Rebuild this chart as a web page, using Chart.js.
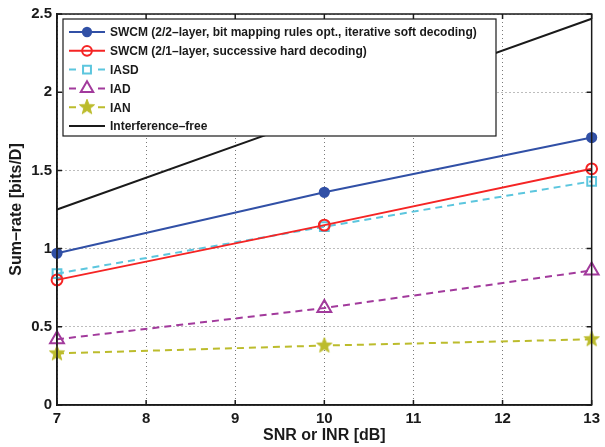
<!DOCTYPE html>
<html>
<head>
<meta charset="utf-8">
<script src="https://cdn.jsdelivr.net/npm/chart.js@4.4.0/dist/chart.umd.min.js"></script>
<style>
  html, body { margin: 0; padding: 0; background: #fff; }
  #wrap { width: 605px; height: 447px; position: relative; }
</style>
</head>
<body>
<div id="wrap"><canvas id="rateChart" width="605" height="447"></canvas></div>
<script>
// data
const snrValues = [7, 10, 13];
const swcm22Rate = [0.97, 1.36, 1.71];
const swcm21Rate = [0.80, 1.15, 1.51];
const iasdRate = [0.84, 1.14, 1.43];
const iadRate = [0.42, 0.62, 0.86];
const ianRate = [0.33, 0.38, 0.42];
const freeRate = [1.25, 1.86, 2.47];
const xTicks = [7, 8, 9, 10, 11, 12, 13];
const yTicks = [0, 0.5, 1, 1.5, 2, 2.5];

const FONT = 'Liberation Sans, Arial, Helvetica, sans-serif';

// filled star marker (Chart.js 'star' is only an asterisk)
function makeStar(color, r) {
  const c = document.createElement('canvas');
  const s = Math.ceil(r * 2 + 2);
  c.width = s; c.height = s;
  const g = c.getContext('2d');
  g.beginPath();
  for (let i = 0; i < 10; i++) {
    const rad = i % 2 === 0 ? r : r * 0.42;
    const a = -Math.PI / 2 + i * Math.PI / 5;
    const px = s / 2 + rad * Math.cos(a);
    const py = s / 2 + rad * Math.sin(a);
    if (i === 0) g.moveTo(px, py); else g.lineTo(px, py);
  }
  g.closePath();
  g.fillStyle = color;
  g.fill();
  g.strokeStyle = color;
  g.lineWidth = 1;
  g.stroke();
  return c;
}

function toPoints(ys) {
  return snrValues.map((x, i) => ({ x: x, y: ys[i] }));
}

const starImg = makeStar('#bcbc2c', 8);

function series(label, ys, color, dash, style, radius, filled) {
  return {
    label: label,
    data: toPoints(ys),
    borderColor: color,
    borderWidth: 2,
    borderDash: dash,
    pointStyle: style,
    pointRadius: radius,
    pointHoverRadius: radius,
    pointBorderWidth: 2,
    pointBorderColor: color,
    pointBackgroundColor: filled ? color : 'rgba(0,0,0,0)',
    fill: false,
    tension: 0,
    clip: false
  };
}

const datasets = [
  series('SWCM (2/2–layer, bit mapping rules opt., iterative soft decoding)', swcm22Rate, '#3150a6', [], 'circle', 4.6, true),
  series('SWCM (2/1–layer, successive hard decoding)', swcm21Rate, '#f52424', [], 'circle', 5.4, false),
  series('IASD', iasdRate, '#5cc6de', [7, 5], 'rect', 6.2, false),
  series('IAD', iadRate, '#a23a9c', [7, 5], 'triangle', 8, false),
  series('IAN', ianRate, '#bcbc2c', [7, 5], starImg, 8, true),
  series('Interference–free', freeRate, '#1a1a1a', [], false, 0, false)
];

// box, inward ticks and the in-plot legend
const matlabFrame = {
  id: 'matlabFrame',
  afterDatasetsDraw(chart) {
    const ctx = chart.ctx;
    const a = chart.chartArea;
    const xs = chart.scales.x, ys = chart.scales.y;
    ctx.save();
    ctx.strokeStyle = '#1a1a1a';
    ctx.lineWidth = 1.5;
    ctx.setLineDash([]);
    ctx.beginPath();
    xTicks.forEach(v => {
      const px = xs.getPixelForValue(v);
      ctx.moveTo(px, a.bottom); ctx.lineTo(px, a.bottom - 5);
      ctx.moveTo(px, a.top); ctx.lineTo(px, a.top + 5);
    });
    yTicks.forEach(v => {
      const py = ys.getPixelForValue(v);
      ctx.moveTo(a.left, py); ctx.lineTo(a.left + 5, py);
      ctx.moveTo(a.right, py); ctx.lineTo(a.right - 5, py);
    });
    ctx.stroke();
    ctx.strokeRect(a.left, a.top, a.right - a.left, a.bottom - a.top);

    // legend
    const box = { x: 63, y: 19, w: 433, h: 117 };
    ctx.fillStyle = '#fff';
    ctx.fillRect(box.x, box.y, box.w, box.h);
    ctx.lineWidth = 1.2;
    ctx.strokeStyle = '#1a1a1a';
    ctx.strokeRect(box.x, box.y, box.w, box.h);
    ctx.font = 'bold 12px ' + FONT;
    ctx.textBaseline = 'middle';
    chart.data.datasets.forEach((ds, i) => {
      const y = 32 + i * 18.8;
      ctx.strokeStyle = ds.borderColor;
      ctx.lineWidth = 2;
      ctx.beginPath();
      if (ds.borderDash.length) {
        ctx.moveTo(69, y); ctx.lineTo(76, y);
        ctx.moveTo(98, y); ctx.lineTo(105, y);
      } else {
        ctx.moveTo(69, y); ctx.lineTo(105, y);
      }
      ctx.stroke();
      if (ds.pointStyle) {
        ctx.fillStyle = ds.pointBackgroundColor;
        ctx.strokeStyle = ds.pointBorderColor;
        ctx.lineWidth = ds.pointBorderWidth;
        Chart.helpers.drawPoint(ctx, { pointStyle: ds.pointStyle, radius: ds.pointRadius * 0.9, borderWidth: ds.pointBorderWidth, rotation: 0 }, 87, y);
      }
      ctx.fillStyle = '#1a1a1a';
      ctx.fillText(ds.label, 110, y + 1);
    });
    ctx.restore();
  }
};

new Chart(document.getElementById('rateChart'), {
  type: 'line',
  data: { datasets: datasets },
  plugins: [matlabFrame],
  options: {
    responsive: false,
    animation: false,
    events: [],
    layout: { padding: { top: 12, right: 12, left: 0, bottom: 0 } },
    plugins: { legend: { display: false }, tooltip: { enabled: false } },
    scales: {
      x: {
        type: 'linear',
        min: 7, max: 13,
        afterBuildTicks: s => { s.ticks = xTicks.map(v => ({ value: v })); },
        afterFit: s => { s.height = 42; },
        ticks: { color: '#1a1a1a', font: { family: FONT, size: 15, weight: 'bold' }, padding: 5, maxRotation: 0 },
        grid: { color: '#7a7a7a', lineWidth: 1, drawTicks: false },
        border: { color: '#1a1a1a', width: 1.5, dash: [1, 3] },
        title: { display: true, text: 'SNR or INR [dB]', color: '#1a1a1a', font: { family: FONT, size: 16, weight: 'bold' }, padding: { top: 0, bottom: 2 } }
      },
      y: {
        type: 'linear',
        min: 0, max: 2.5,
        afterBuildTicks: s => { s.ticks = yTicks.map(v => ({ value: v })); },
        afterFit: s => { s.width = 57; },
        ticks: { color: '#1a1a1a', font: { family: FONT, size: 15, weight: 'bold' }, padding: 5, callback: v => String(v) },
        grid: { color: '#7a7a7a', lineWidth: 1, drawTicks: false },
        border: { color: '#1a1a1a', width: 1.5, dash: [1, 3] },
        title: { display: true, text: 'Sum–rate [bits/D]', color: '#1a1a1a', font: { family: FONT, size: 16, weight: 'bold' }, padding: { top: 7, bottom: 0 } }
      }
    }
  }
});
</script>
</body>
</html>
